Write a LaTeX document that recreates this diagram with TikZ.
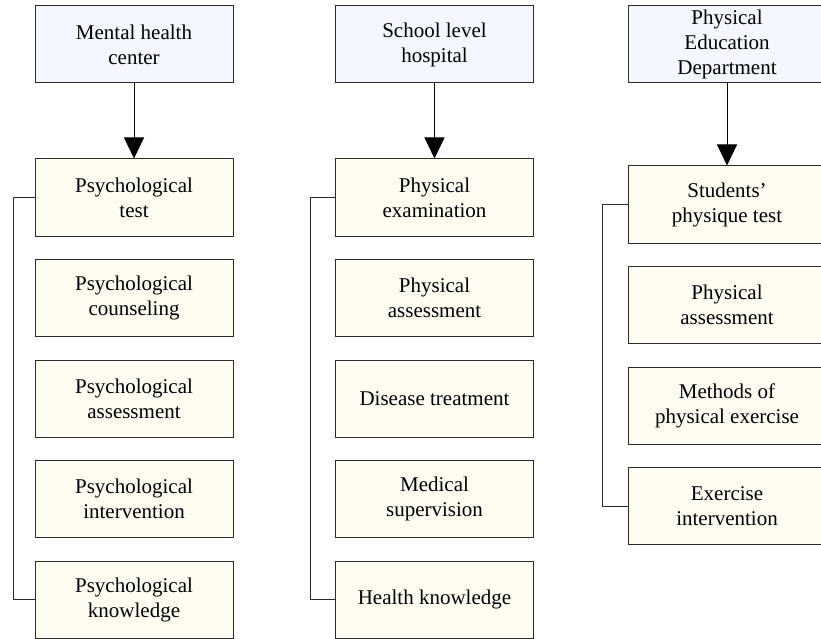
\documentclass[tikz,border=0pt]{standalone}
\usepackage{fontspec}
\setmainfont{Liberation Serif}
\usetikzlibrary{positioning,arrows.meta}
\definecolor{headblue}{HTML}{F5F6FD}
\definecolor{itemcream}{HTML}{FDFDF4}
\definecolor{boxline}{HTML}{2B2B2B}

\begin{document}
\begin{tikzpicture}[x=1pt,y=-1pt,
  node distance=22.5pt,
  every node/.style={font=\fontsize{21}{25}\selectfont},
  headbox/.style={draw=boxline, line width=1pt, fill=headblue,
    minimum width=198pt, minimum height=77pt, inner sep=1pt, align=center},
  itembox/.style={draw=boxline, line width=1pt, fill=itemcream,
    minimum width=198pt, minimum height=77pt, inner sep=1pt, align=center},
  feed/.style={-{Triangle[width=20pt,length=21pt]}, line width=1pt},
  bracket/.style={draw=boxline, line width=1pt}]
  \useasboundingbox (0,0) rectangle (821,639);

  % mental health center
  \node[headbox] (mhc) at (134,44.5) {Mental health\\center};
  \node[itembox, below=75pt of mhc] (ptest) {Psychological\\test};
  \node[itembox, below=of ptest] (pcoun) {Psychological\\counseling};
  \node[itembox, below=of pcoun] (passe) {Psychological\\assessment};
  \node[itembox, below=of passe] (pinter) {Psychological\\intervention};
  \node[itembox, below=of pinter] (pknow) {Psychological\\knowledge};
  \draw[feed] (mhc) -- (ptest);
  \draw[bracket] (ptest.west) -- ++(-21,0) |- (pknow.west);

  % school level hospital
  \node[headbox] (slh) at (434.5,44.5) {School level\\hospital};
  \node[itembox, below=75pt of slh] (pexam) {Physical\\examination};
  \node[itembox, below=of pexam] (hasse) {Physical\\assessment};
  \node[itembox, below=of hasse] (dtreat) {Disease treatment};
  \node[itembox, below=of dtreat] (msuper) {Medical\\supervision};
  \node[itembox, below=of msuper] (hknow) {Health knowledge};
  \draw[feed] (slh) -- (pexam);
  \draw[bracket] (pexam.west) -- ++(-25,0) |- (hknow.west);

  % physical education department
  \node[headbox] (ped) at (727,44.5) {Physical\\Education\\Department};
  \node[itembox, below=82pt of ped] (sptest) {Students'\\physique test};
  \node[itembox, below=of sptest] (easse) {Physical\\assessment};
  \node[itembox, below=of easse] (mexer) {Methods of\\physical exercise};
  \node[itembox, below=of mexer] (einter) {Exercise\\intervention};
  \draw[feed] (ped) -- (sptest);
  \draw[bracket] (sptest.west) -- ++(-25,0) |- (einter.west);
\end{tikzpicture}
\end{document}
